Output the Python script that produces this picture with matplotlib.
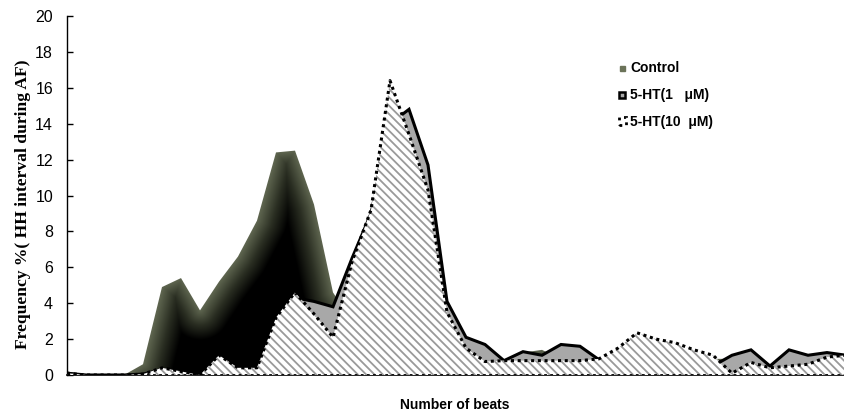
import numpy as np
import matplotlib.pyplot as plt
from matplotlib.patches import Polygon, Patch
from matplotlib.lines import Line2D
from matplotlib.colors import LinearSegmentedColormap

plt.rcParams["hatch.color"] = "#9a9a9a"
plt.rcParams["hatch.linewidth"] = 1.3

# Data (frequency %, 42 beat bins)
beats = np.arange(42)
control = [0.2, 0.0, 0.0, 0.0, 0.6, 4.9, 5.4, 3.6, 5.2, 6.6,
           8.6, 12.4, 12.5, 9.5, 4.6, 3.0, 5.0, 8.0, 9.5, 6.0,
           2.5, 1.2, 1.0, 0.7, 1.25, 1.4, 0.9, 0.8, 0.8, 0.7,
           0.8, 0.7, 0.7, 0.8, 0.9, 0.9, 0.7, 0.3, 0.6, 0.7,
           0.8, 0.8]
ht_1 = [0.1, 0.0, 0.0, 0.0, 0.05, 0.3, 0.2, 0.0, 0.8, 0.3,
        0.4, 2.8, 4.3, 4.1, 3.8, 6.5, 9.0, 14.0, 14.8, 11.7,
        4.1, 2.1, 1.7, 0.8, 1.3, 1.1, 1.7, 1.6, 0.85, 0.9,
        1.0, 0.9, 0.8, 0.7, 0.5, 1.1, 1.4, 0.5, 1.4, 1.1,
        1.25, 1.1]
ht_10 = [0.1, 0.0, 0.0, 0.0, 0.05, 0.4, 0.2, 0.0, 1.1, 0.4,
         0.4, 3.2, 4.6, 3.4, 2.1, 6.3, 9.2, 16.4, 13.4, 10.3,
         3.5, 1.5, 0.75, 0.8, 0.8, 0.8, 0.8, 0.8, 0.9, 1.5,
         2.35, 2.0, 1.8, 1.4, 1.1, 0.1, 0.7, 0.4, 0.5, 0.6,
         1.0, 1.1]
labels = ["Control", "5-HT(1   \u03bcM)", "5-HT(10  \u03bcM)"]

fig = plt.figure(figsize=(8.45, 4.13), dpi=100)
ax = fig.add_axes([67 / 845, 38 / 413, 779 / 845, 359 / 413])
ax.set_xlim(0, 41)
ax.set_ylim(0, 20)

# Control: dark fill, olive at the edge fading to black inside
px_x, px_y = 19.0, 17.95
gx = np.linspace(0, 41, 700)
gy = np.linspace(0, 13, 240)
GX, GY = np.meshgrid(gx, gy)
P = np.stack([GX.ravel() * px_x, GY.ravel() * px_y], axis=1)
c = np.array(control)
A = np.stack([beats[:-1] * px_x, c[:-1] * px_y], axis=1)
B = np.stack([beats[1:] * px_x, c[1:] * px_y], axis=1)
dist = np.full(len(P), np.inf)
for a, b in zip(A, B):
    ab = b - a
    t = np.clip(((P - a) @ ab) / (ab @ ab), 0, 1)
    d = np.hypot(*(P - (a + t[:, None] * ab)).T)
    dist = np.minimum(dist, d)
shade = np.clip(dist / 30.0, 0, 1).reshape(GX.shape)
cmap = LinearSegmentedColormap.from_list("ctrl", ["#5f6650", "#2a2e22", "#000000"])
poly = Polygon(np.column_stack([np.r_[beats, 41, 0], np.r_[control, 0, 0]]),
               closed=True, facecolor="none", edgecolor="none")
ax.add_patch(poly)
im = ax.imshow(shade, extent=(0, 41, 0, 13), origin="lower", cmap=cmap,
               aspect="auto", interpolation="bilinear", zorder=1)
im.set_clip_path(poly)

# 5-HT 1 uM: grey fill with solid black line
ax.fill_between(beats, ht_1, 0, facecolor="#a8a8a8", edgecolor="none", zorder=2)
ax.plot(beats, ht_1, color="black", lw=2.2, solid_joinstyle="miter", zorder=3)

# 5-HT 10 uM: hatched fill with dotted line
ax.fill_between(beats, ht_10, 0, facecolor="white", edgecolor="#9a9a9a",
                hatch="\\\\\\\\", linewidth=0, zorder=4)
ax.plot(beats, ht_10, color="black", lw=2.2, linestyle=(0, (1, 1.2)), zorder=5)
ax.plot([0, 41], [0, 0], color="black", lw=2.0, linestyle=(0, (1, 1.2)), zorder=5)

ax.set_yticks(np.arange(0, 21, 2))
ax.set_xticks([])
ax.tick_params(axis="y", direction="in", length=4, width=1, pad=10)
for lab in ax.get_yticklabels():
    lab.set_fontfamily("Liberation Sans")
    lab.set_fontsize(11.5)
for s in ["top", "right"]:
    ax.spines[s].set_visible(False)
ax.spines["left"].set_linewidth(1)
ax.spines["bottom"].set_linewidth(1.2)

ax.set_ylabel("Frequency %( HH interval during AF)", family="Liberation Serif",
              fontweight="bold", fontsize=12.6)
ax.yaxis.set_label_coords(-0.046, 0.476)
fig.text(455 / 845, 1 - 405 / 413, "Number of beats", family="Liberation Sans",
         fontweight="bold", fontsize=10, ha="center", va="center")

handles = [
    Line2D([], [], marker="s", linestyle="none", ms=3.6, color="#6b7359"),
    Line2D([], [], marker="s", linestyle="none", ms=5, mfc="#a8a8a8",
           mec="black", mew=1.8),
    Patch(facecolor="white", edgecolor="black", linestyle=":", linewidth=2),
]
ax.legend(handles, labels, loc="upper left", bbox_to_anchor=(612 / 845, 1 - 54 / 413),
          bbox_transform=fig.transFigure, frameon=False, borderpad=0,
          handlelength=0.5, handleheight=0.5, handletextpad=0.3,
          labelspacing=0.95, prop={"family": "Liberation Sans", "weight": "bold", "size": 10})

fig.savefig("out.png", dpi=100)
